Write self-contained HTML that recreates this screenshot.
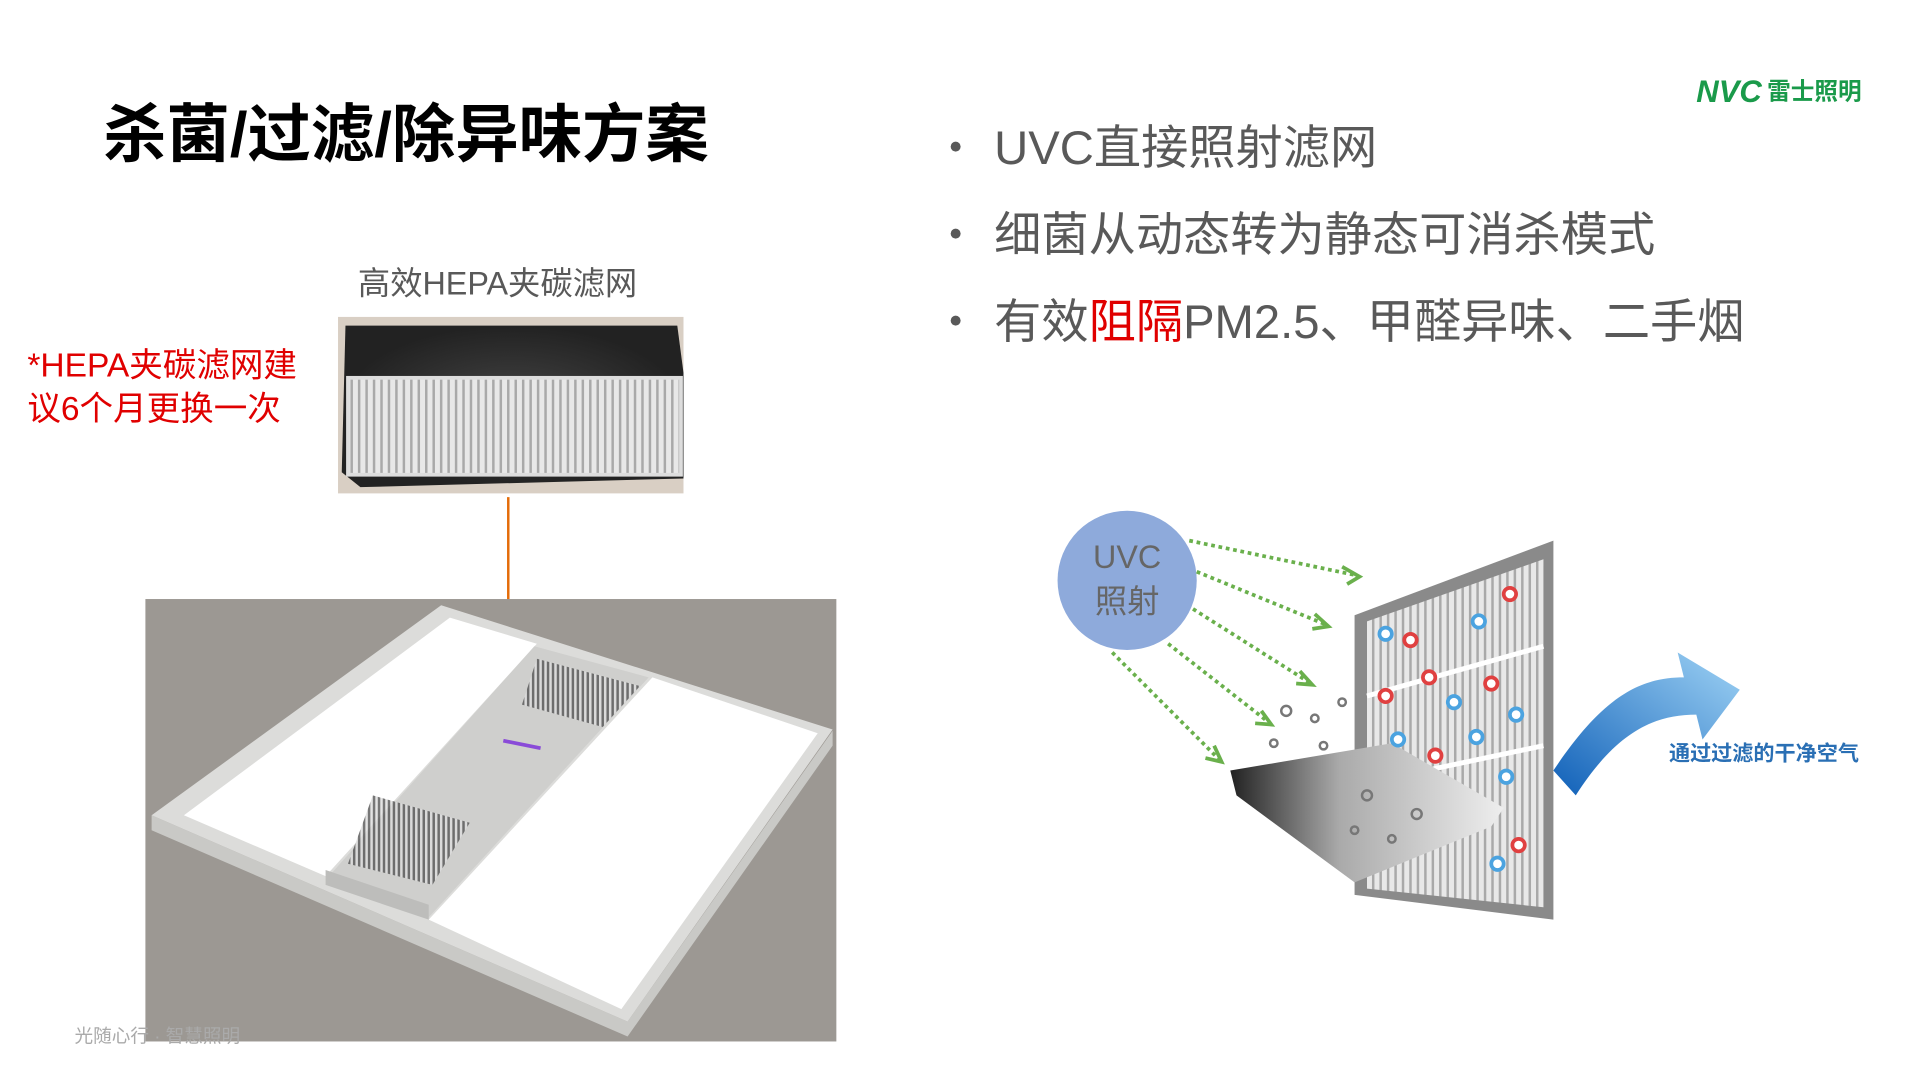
<!DOCTYPE html>
<html><head><meta charset="utf-8"><style>
html,body{margin:0;padding:0;background:#fff;width:1920px;height:1080px;overflow:hidden}
svg{display:block}
text{font-family:"Liberation Sans","Noto Sans CJK SC",sans-serif}
</style></head><body>
<svg width="1920" height="1080" viewBox="0 0 1545 869" preserveAspectRatio="none" xmlns="http://www.w3.org/2000/svg">
<defs>
<linearGradient id="arrowg" x1="0" y1="1" x2="1" y2="0"><stop offset="0" stop-color="#1060b8"/><stop offset="1" stop-color="#9fd3f5"/></linearGradient>
<linearGradient id="slab" x1="0" y1="0" x2="1" y2="0"><stop offset="0" stop-color="#222"/><stop offset=".4" stop-color="#aaa"/><stop offset="1" stop-color="#eee"/></linearGradient>
<pattern id="vl" width="6" height="10" patternUnits="userSpaceOnUse"><rect width="6" height="10" fill="#e8e8e8"/><rect width="2" height="10" fill="#a9a9a9"/></pattern>
<pattern id="grill" width="4" height="4" patternUnits="userSpaceOnUse"><rect width="4" height="4" fill="#ddd"/><rect width="2" height="4" fill="#555"/></pattern>
<radialGradient id="foam"><stop offset="0" stop-color="#444"/><stop offset="1" stop-color="#222"/></radialGradient>
</defs>
<text x="83" y="126" font-size="51" font-weight="bold" fill="#000">杀菌/过滤/除异味方案</text>
<text x="1365" y="82" font-size="25" font-weight="bold" fill="#1a9a4a" font-style="italic">NVC</text>
<text x="1422" y="80" font-size="19" font-weight="bold" fill="#1a9a4a">雷士照明</text>
<g fill="#595959" font-size="38">
<circle cx="769" cy="118" r="4"/><text x="800" y="132">UVC直接照射滤网</text>
<circle cx="769" cy="188" r="4"/><text x="800" y="202">细菌从动态转为静态可消杀模式</text>
<circle cx="769" cy="258" r="4"/><text x="800" y="272">有效<tspan fill="#e00000">阻隔</tspan>PM2.5、甲醛异味、二手烟</text>
</g>
<text x="288" y="237" font-size="26" fill="#595959">高效HEPA夹碳滤网</text>
<text x="22" y="303" font-size="27" fill="#e00000">*HEPA夹碳滤网建</text>
<text x="22" y="338" font-size="27" fill="#e00000">议6个月更换一次</text>
<rect x="272" y="255" width="278" height="142" fill="#d9cfc4"/>
<path d="M278 262 L545 262 L550 300 L550 385 L290 392 L275 380 Z" fill="url(#foam)"/>
<rect x="280" y="304" width="268" height="78" fill="url(#vl)" stroke="#ddd" stroke-width="3"/>
<line x1="409" y1="400" x2="409" y2="592" stroke="#e46c0a" stroke-width="2"/>
<rect x="117" y="482" width="556" height="356" fill="#9c9893"/>
<polygon points="122,656 122,668 505,834 670,600 670,588 505,822" fill="#c9c9c6"/>
<polygon points="355,487 670,587 505,822 122,656" fill="#dcdcda"/>
<polygon points="362,497 432,518 262,705 148,656" fill="#fff"/>
<polygon points="525,545 658,590 500,812 345,740" fill="#fff"/>
<polygon points="430,520 522,545 345,738 262,708" fill="#cfcfcd"/>
<polygon points="432,530 515,552 485,585 420,567" fill="url(#grill)" opacity=".8"/>
<polygon points="300,640 378,662 348,712 280,695" fill="url(#grill)" opacity=".8"/>
<line x1="405" y1="596" x2="435" y2="602" stroke="#8a4bd8" stroke-width="3"/>
<polygon points="262,700 262,712 345,740 345,728" fill="#bdbdbb"/>
<text x="60" y="839" font-size="15" fill="#aaa">光随心行 · 智慧照明</text>
<path d="M1250 620 C1290 560 1320 545 1355 545 L1350 525 L1400 555 L1370 595 L1365 575 C1330 575 1300 590 1268 640 Z" fill="url(#arrowg)"/>
<polygon points="1090,495 1250,435 1250,740 1090,720" fill="#8a8a8a"/>
<polygon points="1100,500 1242,450 1242,730 1100,715" fill="url(#vl)"/>
<line x1="1100" y1="560" x2="1242" y2="520" stroke="#fff" stroke-width="4"/>
<line x1="1100" y1="630" x2="1242" y2="600" stroke="#fff" stroke-width="4"/>
<polygon points="990,620 1120,598 1210,650 1200,665 1090,710 995,640" fill="url(#slab)"/>
<g fill="#fff" stroke-width="3">
<circle cx="1115" cy="510" r="5" stroke="#4ba3e0"/><circle cx="1135" cy="515" r="5" stroke="#e04040"/>
<circle cx="1190" cy="500" r="5" stroke="#4ba3e0"/><circle cx="1215" cy="478" r="5" stroke="#e04040"/>
<circle cx="1150" cy="545" r="5" stroke="#e04040"/><circle cx="1200" cy="550" r="5" stroke="#e04040"/>
<circle cx="1115" cy="560" r="5" stroke="#e04040"/><circle cx="1170" cy="565" r="5" stroke="#4ba3e0"/>
<circle cx="1220" cy="575" r="5" stroke="#4ba3e0"/><circle cx="1125" cy="595" r="5" stroke="#4ba3e0"/>
<circle cx="1188" cy="593" r="5" stroke="#4ba3e0"/><circle cx="1155" cy="608" r="5" stroke="#e04040"/>
<circle cx="1212" cy="625" r="5" stroke="#4ba3e0"/><circle cx="1222" cy="680" r="5" stroke="#e04040"/>
<circle cx="1205" cy="695" r="5" stroke="#4ba3e0"/>
</g>
<g fill="none" stroke="#777" stroke-width="2">
<circle cx="1035" cy="572" r="4"/><circle cx="1058" cy="578" r="3"/><circle cx="1080" cy="565" r="3"/>
<circle cx="1025" cy="598" r="3"/><circle cx="1065" cy="600" r="3"/><circle cx="1100" cy="640" r="4"/>
<circle cx="1140" cy="655" r="4"/><circle cx="1090" cy="668" r="3"/><circle cx="1120" cy="675" r="3"/>
</g>
<circle cx="907" cy="467" r="56" fill="#8eaadb"/>
<text x="907" y="457" font-size="26" fill="#666" text-anchor="middle">UVC</text>
<text x="907" y="493" font-size="26" fill="#666" text-anchor="middle">照射</text>
<g stroke="#6ab04c" stroke-width="3" stroke-dasharray="3 3" fill="none">
<line x1="957" y1="435" x2="1092" y2="463"/><line x1="963" y1="460" x2="1068" y2="503"/>
<line x1="960" y1="490" x2="1055" y2="550"/><line x1="940" y1="518" x2="1022" y2="582"/>
<line x1="895" y1="525" x2="982" y2="612"/>
</g>
<g stroke="#6ab04c" stroke-width="3" fill="none">
<polyline points="1080,456 1094,464 1084,470"/><polyline points="1058,494 1069,504 1056,506"/>
<polyline points="1046,540 1056,551 1043,550"/><polyline points="1015,572 1023,583 1010,582"/>
<polyline points="977,600 983,613 970,610"/>
</g>
<text x="1343" y="612" font-size="17" font-weight="bold" fill="#2a6fb4">通过过滤的干净空气</text>
</svg>
</body></html>
